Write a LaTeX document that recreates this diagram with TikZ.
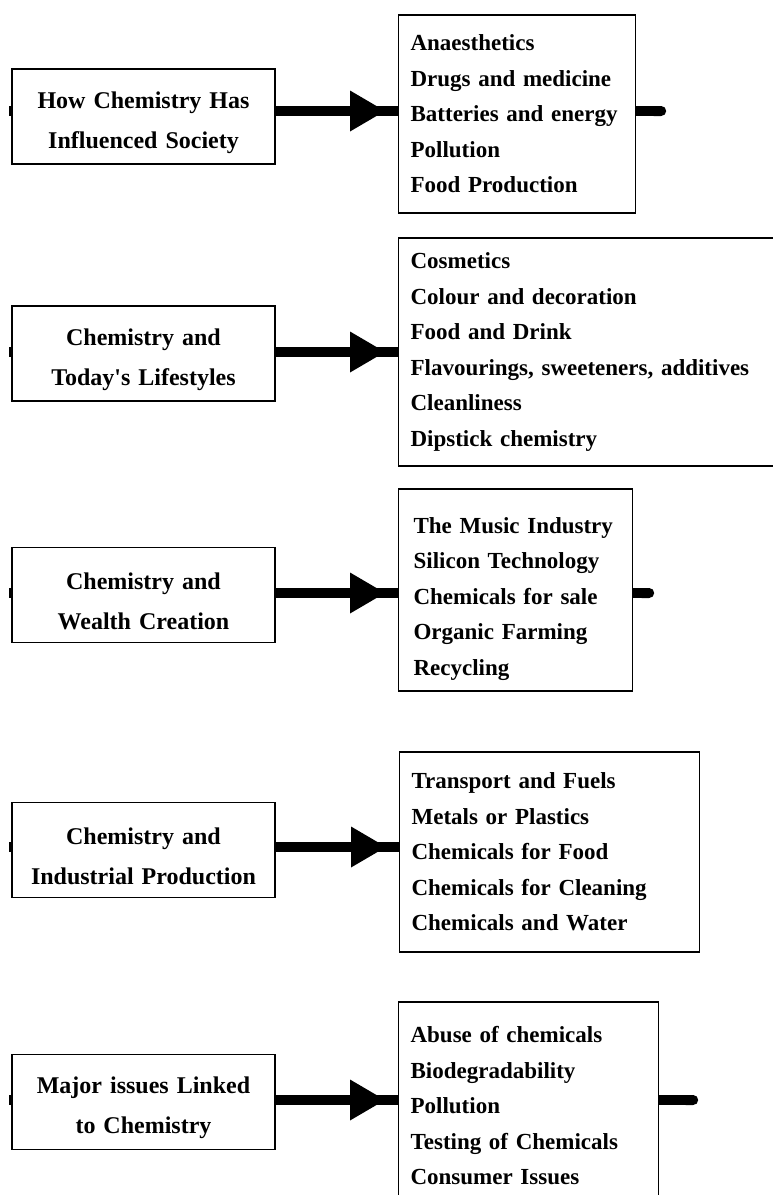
\documentclass[tikz,border=0pt]{standalone}
\usepackage{fontspec}
\setmainfont{Liberation Serif}
\usetikzlibrary{arrows.meta,decorations.markings}

\tikzset{
  titlu/.style={draw,line width=1.2pt,minimum width=263pt,minimum height=95pt,
    text width=243pt,text height=29pt,align=center,font=\bfseries\fontsize{24}{40}\selectfont},
  lista/.style={draw,line width=1.2pt,anchor=west,align=left,inner xsep=12pt,
    font=\bfseries\fontsize{23}{35.5}\selectfont},
  bara/.style={line width=10pt},
  sageata/.style={bara,postaction={decorate},decoration={markings,
    mark=at position -13pt with {\fill (-35pt,-20.5pt) -- (0pt,0pt) -- (-35pt,20.5pt) -- cycle;}}},
  capat/.style={bara,-{Round Cap}}
}

\begin{document}
\begin{tikzpicture}[x=1pt,y=-1pt]
  \useasboundingbox (0,0) rectangle (772,1195);

  % casetele din stânga
  \node[titlu] (h1) at (143.5,116.5) {How Chemistry Has\\Influenced Society};
  \node[titlu] (h2) at (143.5,353.5) {Chemistry and\\Today\textquotesingle s Lifestyles};
  \node[titlu] (h3) at (143.5,595) {Chemistry and\\Wealth Creation};
  \node[titlu] (h4) at (143.5,850) {Chemistry and\\Industrial Production};
  \node[titlu] (h5) at (143.5,1102) {Major issues Linked\\to Chemistry};

  % casetele din dreapta
  \node[lista,minimum width=237pt,minimum height=198pt,text width=213pt] (i1) at (398,114)
    {Anaesthetics\\Drugs and medicine\\Batteries and energy\\Pollution\\Food Production};
  \node[lista,minimum width=400pt,minimum height=228pt,text width=376pt] (i2) at (398,352)
    {Cosmetics\\Colour and decoration\\Food and Drink\\Flavourings, sweeteners, additives\\Cleanliness\\Dipstick chemistry};
  \node[lista,inner xsep=15pt,minimum width=234pt,minimum height=202pt,text width=204pt,
    text height=34pt] (i3) at (398,590)
    {The Music Industry\\Silicon Technology\\Chemicals for sale\\Organic Farming\\Recycling};
  \node[lista,minimum width=300pt,minimum height=200pt,text width=276pt] (i4) at (399,852)
    {Transport and Fuels\\Metals or Plastics\\Chemicals for Food\\Chemicals for Cleaning\\Chemicals and Water};
  \node[lista,minimum width=260pt,minimum height=208pt,text width=236pt] (i5) at (398,1106)
    {Abuse of chemicals\\Biodegradability\\Pollution\\Testing of Chemicals\\Consumer Issues};

  % săgețile groase
  \foreach \r/\d in {1/5.5,2/1.5,3/2,4/3,5/2}{
    \coordinate (a\r) at ([yshift=\d pt]h\r.east);
    \draw[sageata] (a\r) -- (a\r -| i\r.west);
    \draw[bara] (a\r -| h\r.west) -- ++(-2,0);
  }

  % capete libere
  \draw[capat] (a1 -| i1.east) -- ++(30,0);
  \draw[capat] (a3 -| i3.east) -- ++(21,0);
  \draw[capat] (a5 -| i5.east) -- ++(39,0);
\end{tikzpicture}
\end{document}
